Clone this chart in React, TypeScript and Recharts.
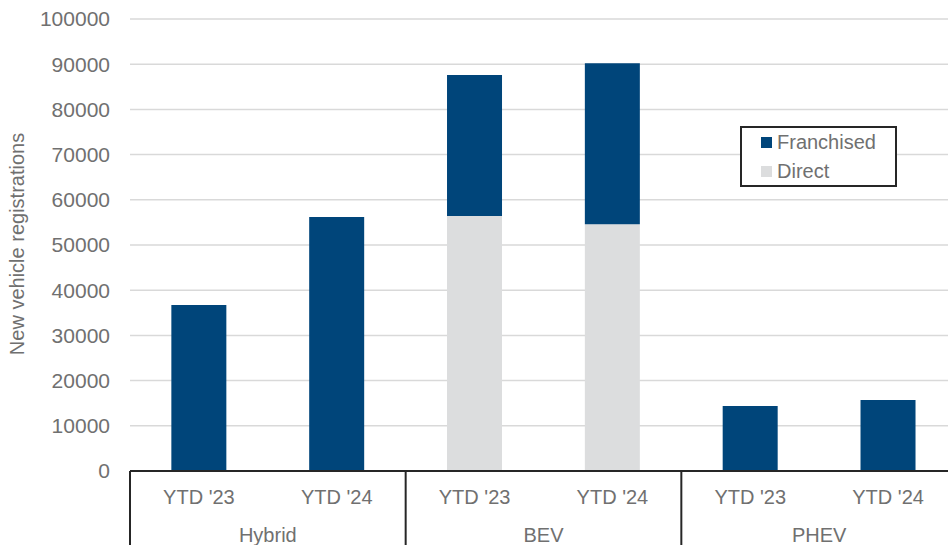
import React from 'react';
import { BarChart, Bar, XAxis, YAxis, CartesianGrid, Legend } from 'recharts';

const periods = ["YTD '23", "YTD '24", "YTD '23", "YTD '24", "YTD '23", "YTD '24"];
const groups = ['Hybrid', 'Hybrid', 'BEV', 'BEV', 'PHEV', 'PHEV'];
const direct = [0, 0, 56400, 54600, 0, 0];
const franchised = [36700, 56200, 31200, 35600, 14400, 15700];
const yTicks = [0, 10000, 20000, 30000, 40000, 50000, 60000, 70000, 80000, 90000, 100000];

const chartData = periods.map((p, i) => ({
  key: `${groups[i]}-${p}`,
  period: p,
  group: groups[i],
  direct: direct[i],
  franchised: franchised[i],
}));

// the plot runs a little past the right edge of the visible picture
const W = 957;
const VIEW_W = 948;
const H = 545;
const margin = { top: 19, right: 0, bottom: 0, left: 0 };
const yAxisWidth = 130;
const xAxisHeight = 74;
const bandW = (W - yAxisWidth - margin.left - margin.right) / periods.length;

const BLUE = '#00457A';
const GREY = '#DCDDDE';
const TEXT = '#707070';
const FONT = '"Liberation Sans", Arial, sans-serif';

const CategoryTick = (props: any) => {
  const { x, y, index } = props;
  const item = chartData[index];
  const first = index === 0 || groups[index - 1] !== groups[index];
  return (
    <g>
      <text x={x} y={y + 33} textAnchor="middle" fill={TEXT} fontSize={20} fontFamily={FONT}>
        {item.period}
      </text>
      {first && (
        <>
          <line x1={x - bandW / 2} x2={x - bandW / 2} y1={y} y2={H} stroke="#262626" strokeWidth={2} />
          <text x={x + bandW / 2} y={y + 71} textAnchor="middle" fill={TEXT} fontSize={20} fontFamily={FONT}>
            {item.group}
          </text>
        </>
      )}
    </g>
  );
};

const legendItems = [
  { name: 'Franchised', color: BLUE },
  { name: 'Direct', color: GREY },
];

const LegendBox = () => (
  <div
    style={{
      border: '2px solid #262626',
      width: 157,
      height: 61,
      boxSizing: 'border-box',
      padding: '0 0 0 19px',
      fontFamily: FONT,
      fontSize: 20,
      color: TEXT,
      background: '#fff',
      textAlign: 'left',
    }}
  >
    {legendItems.map((it) => (
      <div key={it.name} style={{ display: 'flex', alignItems: 'center', height: 29, lineHeight: '29px' }}>
        <span style={{ width: 11, height: 11, background: it.color, display: 'inline-block', marginRight: 5 }} />
        {it.name}
      </div>
    ))}
  </div>
);

const YLabel = () => (
  <text
    x={24}
    y={244}
    transform="rotate(-90 24 244)"
    textAnchor="middle"
    fill={TEXT}
    fontSize={20}
    fontFamily={FONT}
  >
    New vehicle registrations
  </text>
);

export default function App() {
  return (
    <div style={{ position: 'absolute', left: 0, top: 0, width: VIEW_W, height: H, overflow: 'hidden', background: '#fff' }}>
      <BarChart width={W} height={H} data={chartData} margin={margin} barCategoryGap="30%">
        <CartesianGrid vertical={false} stroke="#D9D9D9" strokeWidth={1.5} />
        <XAxis
          dataKey="key"
          height={xAxisHeight}
          tick={<CategoryTick />}
          tickLine={false}
          tickSize={0}
          tickMargin={0}
          interval={0}
          axisLine={{ stroke: '#262626', strokeWidth: 2 }}
        />
        <YAxis
          width={yAxisWidth}
          domain={[0, 100000]}
          ticks={yTicks}
          axisLine={false}
          tickLine={false}
          tickSize={0}
          tickMargin={20}
          tick={{ fill: TEXT, fontSize: 21, fontFamily: FONT }}
          label={<YLabel />}
        />
        <Legend
          layout="horizontal"
          verticalAlign="middle"
          align="center"
          content={<LegendBox />}
          wrapperStyle={{ position: 'absolute', left: 740, top: 126, width: 157, height: 61 }}
        />
        <Bar dataKey="direct" stackId="a" fill={GREY} name="Direct" isAnimationActive={false} />
        <Bar dataKey="franchised" stackId="a" fill={BLUE} name="Franchised" isAnimationActive={false} />
      </BarChart>
    </div>
  );
}
